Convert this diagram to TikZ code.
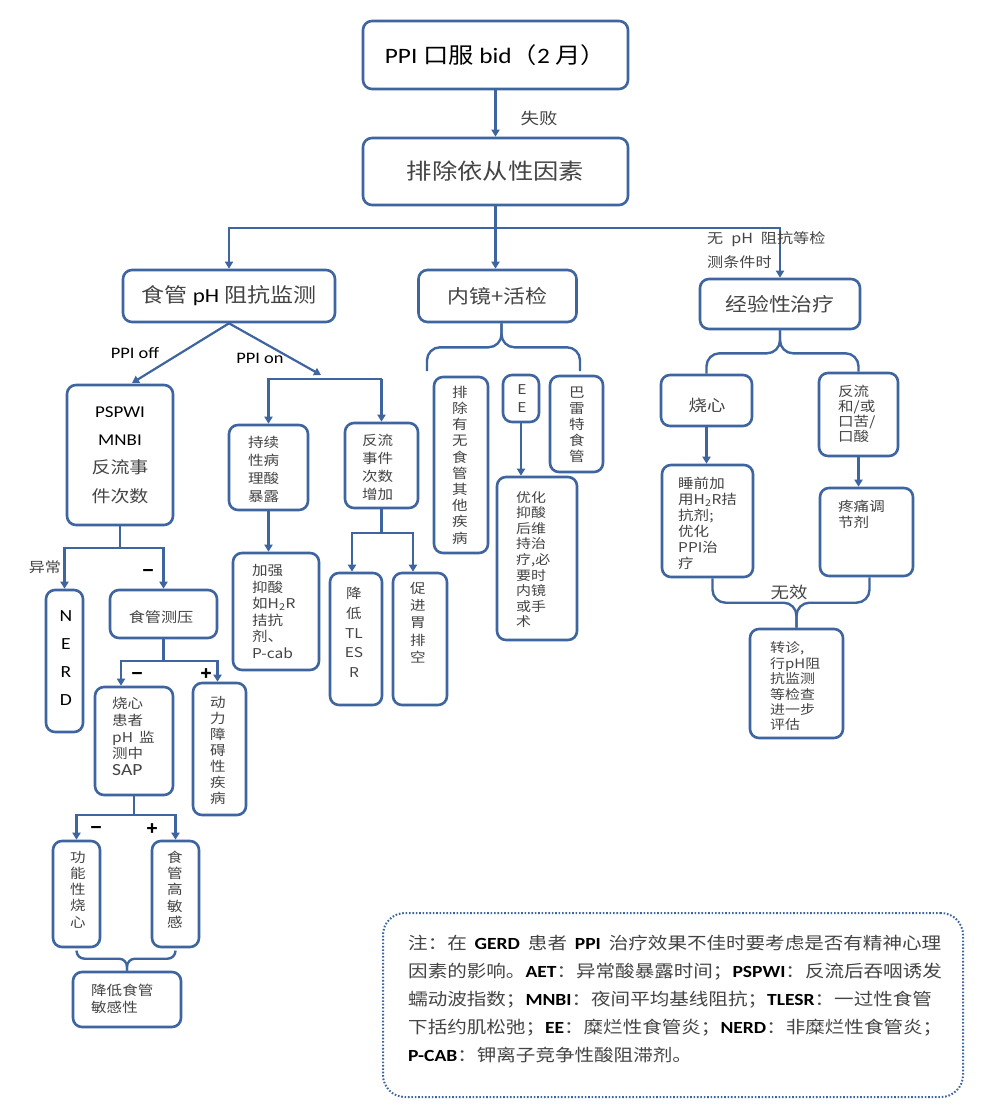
\documentclass[tikz,border=0pt]{standalone}
\usepackage{fontspec}
\setmainfont[FakeStretch=1.15]{Noto Sans CJK SC}
\newfontfamily\lat[FakeStretch=1.15]{Carlito}
\newfontfamily\sgnfont[FakeBold=2]{DejaVu Sans}
\usetikzlibrary{arrows.meta,calc}
\definecolor{lineblue}{RGB}{62,101,160}
\definecolor{txtgray}{HTML}{444444}
\newcommand\LB[1]{{\lat\bfseries\color{black}#1}}
\begin{document}
\begin{tikzpicture}[x=1pt,y=-1pt,
 bx/.style={draw=lineblue, line width=2.6pt, rounded corners=9pt, inner sep=0pt, fill=white},
 tx/.style={text=txtgray, inner sep=0pt, align=left},
 arr/.style={draw=lineblue, line width=2.2pt, -{Triangle[width=8pt,length=7pt]}},
 conn/.style={draw=lineblue, line width=2.2pt},
 brc/.style={draw=lineblue, line width=2.4pt, rounded corners=13pt},
 lbl/.style={inner sep=0pt, text=txtgray},
 sgn/.style={inner sep=0pt, text=black, font=\sgnfont\bfseries\fontsize{15}{15}\selectfont}
]
\fill[white] (0,0) rectangle (983,1112);
\useasboundingbox (0,0) rectangle (983,1112);

% top
\node[bx, minimum width=265pt, minimum height=68pt, text=black, font=\fontsize{22}{26}\selectfont] (b1) at (495.5,55) {{\lat PPI} 口服 {\lat bid}（{\lat 2} 月）};
\node[bx, minimum width=265pt, minimum height=67pt, text=txtgray, font=\fontsize{22}{26}\selectfont] (b2) at (495.5,171.5) {排除依从性因素};
\node[bx, minimum width=212pt, minimum height=52pt, text=txtgray, font=\fontsize{20}{24}\selectfont] (b3) at (229,296) {食管 {\lat\color{black}pH} 阻抗监测};
\node[bx, minimum width=158pt, minimum height=52pt, text=txtgray, font=\fontsize{19}{23}\selectfont] (b4) at (497.5,296) {内镜+活检};
\node[bx, minimum width=160pt, minimum height=50pt, text=txtgray, font=\fontsize{19}{23}\selectfont] (b5) at (780,304) {经验性治疗};

% left branch
\node[bx, minimum width=106pt, minimum height=140pt] (b6) at (120,455) {};
\node[tx, align=center, font=\fontsize{16.5}{28.3}\selectfont] (t6) at (120,455) {{\lat\color{black}PSPWI}\\{\lat\color{black}MNBI}\\反流事\\件次数};
\node[bx, minimum width=37pt, minimum height=142pt] (b7) at (64.5,661) {};
\node[tx, align=center, text=black, font=\lat\fontsize{17}{28.3}\selectfont] (t7) at (66,658) {N\\E\\R\\D};
\node[bx, minimum width=107pt, minimum height=48pt] (b8) at (163.5,614) {};
\node[tx, font=\fontsize{14}{17}\selectfont] (t8) at (161,617) {食管测压};
\node[bx, minimum width=78pt, minimum height=108pt] (b9) at (134,741) {};
\node[tx, anchor=west, font=\fontsize{13.5}{16.75}\selectfont] (t9) at (112,736.5) {烧心\\患者\\pH\hspace{6pt}监\\测中\\{\lat\fontsize{17}{17}\selectfont SAP}};
\node[bx, minimum width=53pt, minimum height=132pt] (b10) at (219.5,749) {};
\node[tx, align=center, font=\fontsize{13.5}{16}\selectfont] (t10) at (218,750) {动\\力\\障\\碍\\性\\疾\\病};
\node[bx, minimum width=47pt, minimum height=106pt] (b11) at (76.5,894) {};
\node[tx, align=center, font=\fontsize{13.5}{16.25}\selectfont] (t11) at (78,889.5) {功\\能\\性\\烧\\心};
\node[bx, minimum width=47pt, minimum height=106pt] (b12) at (175.5,894) {};
\node[tx, align=center, font=\fontsize{13.5}{16.25}\selectfont] (t12) at (175,889.5) {食\\管\\高\\敏\\感};
\node[bx, minimum width=108pt, minimum height=55pt] (b13) at (127,999.5) {};
\node[tx, anchor=west, font=\fontsize{13.5}{17}\selectfont] (t13) at (91,998.5) {降低食管\\敏感性};

% PPI on branch
\node[bx, minimum width=79pt, minimum height=85pt] (b14) at (268.5,467.5) {};
\node[tx, anchor=west, font=\fontsize{13.5}{18}\selectfont] (t14) at (248,469) {持续\\性病\\理酸\\暴露};
\node[bx, minimum width=86pt, minimum height=117pt] (b15) at (276,611.5) {};
\node[tx, anchor=west, font=\fontsize{13.5}{16.6}\selectfont] (t15) at (252,611.5) {加强\\抑酸\\如H\textsubscript{2}R\\拮抗\\剂、\\P-cab};
\node[bx, minimum width=73pt, minimum height=85pt] (b16) at (381.5,465.5) {};
\node[tx, anchor=west, font=\fontsize{13.5}{18}\selectfont] (t16) at (362,467) {反流\\事件\\次数\\增加};
\node[bx, minimum width=52pt, minimum height=132pt] (b17) at (356,639) {};
\node[tx, align=center, font=\fontsize{13.5}{19.75}\selectfont] (t17) at (354,632.5) {降\\低\\TL\\ES\\R};
\node[bx, minimum width=54pt, minimum height=132pt] (b18) at (420,639) {};
\node[tx, align=center, font=\fontsize{13.5}{17.25}\selectfont] (t18) at (418,622.5) {促\\进\\胃\\排\\空};

% middle branch
\node[bx, minimum width=54pt, minimum height=176pt] (b19) at (461,465) {};
\node[tx, align=center, font=\fontsize{13.5}{16.2}\selectfont] (t19) at (460,465) {排\\除\\有\\无\\食\\管\\其\\他\\疾\\病};
\node[bx, minimum width=36pt, minimum height=47pt] (b20) at (521,398.5) {};
\node[tx, align=center, font=\fontsize{13.5}{18}\selectfont] (t20) at (522,399) {E\\E};
\node[bx, minimum width=53pt, minimum height=96pt] (b21) at (576.5,424) {};
\node[tx, align=center, font=\fontsize{13.5}{16}\selectfont] (t21) at (577,425) {巴\\雷\\特\\食\\管};
\node[bx, minimum width=80pt, minimum height=163pt] (b22) at (537,558.5) {};
\node[tx, anchor=west, font=\fontsize{13}{15.6}\selectfont] (t22) at (516,559.5) {优化\\抑酸\\后维\\持治\\疗,必\\要时\\内镜\\或手\\术};

% right branch
\node[bx, minimum width=91pt, minimum height=51pt] (b23) at (706.5,400.5) {};
\node[tx, font=\fontsize{16}{20}\selectfont] (t23) at (707,405) {烧心};
\node[bx, minimum width=79pt, minimum height=83pt] (b24) at (858.5,414.5) {};
\node[tx, anchor=west, font=\fontsize{13.5}{15}\selectfont] (t24) at (838,413.5) {反流\\和/或\\口苦/\\口酸};
\node[bx, minimum width=91pt, minimum height=112pt] (b25) at (707.5,521) {};
\node[tx, anchor=west, font=\fontsize{13.5}{16}\selectfont] (t25) at (678,523) {睡前加\\用H\textsubscript{2}R拮\\抗剂;\\优化\\PPI治\\疗};
\node[bx, minimum width=93pt, minimum height=88pt] (b26) at (866.5,532) {};
\node[tx, anchor=west, font=\fontsize{13.5}{16}\selectfont] (t26) at (838,514) {疼痛调\\节剂};
\node[bx, minimum width=93pt, minimum height=109pt] (b27) at (796.5,683.5) {};
\node[tx, anchor=west, font=\fontsize{13}{15.4}\selectfont] (t27) at (770,686.5) {转诊,\\行pH阻\\抗监测\\等检查\\进一步\\评估};

% note
\node[draw=lineblue, line width=2pt, dash pattern=on 1.6pt off 1.8pt, rounded corners=22pt, minimum width=580pt, minimum height=184pt, inner sep=0pt] (note) at (673,1005) {};
\node[tx, anchor=west, font=\fontsize{17}{28}\selectfont] (tn) at (408,999) {%
\hbox to 533pt{注：在 \LB{GERD} 患者 \LB{PPI} 治疗效果不佳时要考虑是否有精神心理}\\
因素的影响。\LB{AET}：异常酸暴露时间；\LB{PSPWI}：反流后吞咽诱发\\
蠕动波指数；\LB{MNBI}：夜间平均基线阻抗；\LB{TLESR}：一过性食管\\
下括约肌松弛；\LB{EE}：糜烂性食管炎；\LB{NERD}：非糜烂性食管炎；\\
\LB{P-CAB}：钾离子竞争性酸阻滞剂。};

% connectors top
\draw[arr] (b1.south) -- (b2.north);
\node[lbl, font=\fontsize{16}{18}\selectfont] (l1) at (539,118) {失败};
\draw[conn] (b2.south) -- ++(0,22) coordinate (j1);
\draw[arr] (j1) -| (b3.north);
\draw[arr] (j1) -| (b5.north);
\draw[arr] (b2.south) -- (b2.south |- b4.north);
\node[tx, anchor=west, font=\fontsize{14}{24}\selectfont] (l2) at (707,250) {无\hspace{8pt}pH\hspace{8pt}阻抗等检\\测条件时};

% PPI off / on
\coordinate (offEnd) at (132,383);
\coordinate (onEnd) at (321,375);
\draw[arr] (b3.south) -- (offEnd);
\draw[arr] (b3.south) -- (onEnd);
\node[lbl, text=black, font=\lat\fontsize{16}{18}\selectfont] (l3) at (135,353) {PPI off};
\node[lbl, text=black, font=\lat\fontsize{16}{18}\selectfont] (l4) at (260,358) {PPI on};
\coordinate (onL) at (268.5,379);
\coordinate (onR) at (381.5,379);
\draw[arr] (onR) -- (onL) -- (b14.north);
\draw[arr] (onR) -- (b16.north);

% b6 branches
\draw[conn] (b6.south) -- ++(0,22) coordinate (j2);
\draw[arr] (j2) -| (b7.north);
\draw[arr] (j2) -| (b8.north);
\node[lbl, font=\fontsize{14}{16}\selectfont] (l5) at (45,567) {异常};
\node[sgn] (s1) at (148,572) {−};

% b8 branches
\draw[conn] (b8.south) -- ++(0,22) coordinate (j3);
\draw[arr] (j3) -| ([xshift=-13pt]b9.north);
\draw[arr] (j3) -| ([xshift=-2pt]b10.north);
\node[sgn] (s2) at (137,675) {−};
\node[sgn] (s3) at (206,673) {+};

% b9 branches
\draw[conn] (b9.south) -- ++(0,19) coordinate (j4);
\draw[arr] (j4) -| (b11.north);
\draw[arr] (j4) -| (b12.north);
\node[sgn] (s4) at (96,829) {−};
\node[sgn] (s5) at (152,828) {+};

% bottom-left brace
\draw[brc, rounded corners=8pt] ([yshift=-3pt]b11.south) |- ($(b13.north)+(0,-12)$) -- (b13.north);
\draw[brc, rounded corners=8pt] ([yshift=-3pt]b12.south) |- ($(b13.north)+(0,-12)$) -- (b13.north);

% PPI on sub
\draw[arr] (b14.south) -- (b14.south |- b15.north);
\draw[conn] (b16.south) -- ++(0,24) coordinate (j5);
\draw[arr] (j5) -| ([xshift=-4pt]b17.north);
\draw[arr] (j5) -| ([xshift=-7pt]b18.north);

% endoscopy brace
\coordinate (brL) at (427,371);
\coordinate (brR) at (580,371);
\draw[brc] (brL) |- ($([xshift=4pt]b4.south)+(0,24)$) -- ([xshift=4pt]b4.south);
\draw[brc] (brR) |- ($([xshift=4pt]b4.south)+(0,24)$) -- ([xshift=4pt]b4.south);
\draw[arr] (b20.south) -- (b20.south |- b22.north);

% empirical brace
\draw[brc] (b23.north) |- ($(b5.south)+(0,23)$) -- (b5.south);
\draw[brc] (b24.north) |- ($(b5.south)+(0,23)$) -- (b5.south);
\draw[arr] (b23.south) -- (b23.south |- b25.north);
\draw[arr] (b24.south) -- (b24.south |- b26.north);
\draw[brc] ([xshift=5pt]b25.south) |- ($(b27.north)+(0,-25)$) -- (b27.north);
\draw[brc] ([xshift=3pt]b26.south) |- ($(b27.north)+(0,-25)$) -- (b27.north);
\node[lbl, font=\fontsize{16}{18}\selectfont] (l6) at (789,592) {无效};
\end{tikzpicture}
\end{document}
